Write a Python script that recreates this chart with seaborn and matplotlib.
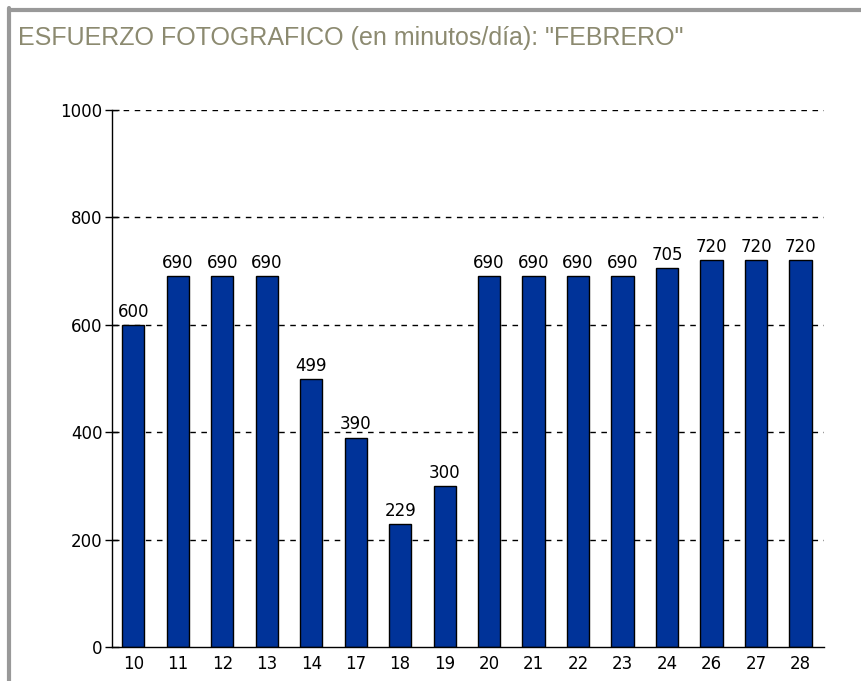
import matplotlib
matplotlib.use("Agg")
import matplotlib.pyplot as plt
import seaborn as sns
import pandas as pd
from matplotlib.lines import Line2D

days = ["10", "11", "12", "13", "14", "17", "18", "19", "20", "21", "22", "23", "24", "26", "27", "28"]
minutes = [600, 690, 690, 690, 499, 390, 229, 300, 690, 690, 690, 690, 705, 720, 720, 720]
yticks = [0, 200, 400, 600, 800, 1000]
title = 'ESFUERZO FOTOGRAFICO (en minutos/día): "FEBRERO"'

df = pd.DataFrame({"dia": days, "min": minutes})

sns.set_theme(style="white")
plt.rcParams["font.family"] = ["DejaVu Sans"]

fig = plt.figure(figsize=(8.62, 6.81), dpi=100)
ax = fig.add_axes([112 / 862, 1 - 647 / 681, (824 - 112) / 862, (647 - 110) / 681])

sns.barplot(data=df, x="dia", y="min", ax=ax, color="#003399", saturation=1,
            width=0.5, edgecolor="black", linewidth=1)

ax.set_ylim(0, 1000)
ax.set_xlim(-0.48, 15.53)
ax.set_yticks(yticks)
ax.set_yticklabels([str(v) for v in yticks])
ax.set_xlabel("")
ax.set_ylabel("")
for v in yticks[1:]:
    ax.axhline(v, color="black", lw=1, ls=(0, (4, 4)), zorder=0)

for sp in ["top", "right"]:
    ax.spines[sp].set_visible(False)
for sp in ["left", "bottom"]:
    ax.spines[sp].set_color("black")
    ax.spines[sp].set_linewidth(1)

ax.tick_params(axis="y", direction="inout", length=10, width=1, color="black",
               labelsize=12, labelcolor="black", left=True, pad=2)
ax.tick_params(axis="x", length=0, labelsize=12, labelcolor="black", pad=6)

for i, v in enumerate(minutes):
    ax.annotate(str(v), (i, v), xytext=(0, 3), textcoords="offset points",
                ha="center", va="bottom", fontsize=12, color="black")

fig.text(18 / 862, 1 - 38 / 681, title, fontsize=18, color="#8c8a70",
         ha="left", va="center", family=["Liberation Sans"])

# grey frame (top and left)
fig.add_artist(Line2D([9.5 / 862, 1], [1 - 9.5 / 681, 1 - 9.5 / 681], color="#999999", lw=3,
                      transform=fig.transFigure))
fig.add_artist(Line2D([9.5 / 862, 9.5 / 862], [0, 1 - 8 / 681], color="#999999", lw=3,
                      transform=fig.transFigure))

fig.savefig("out.png", dpi=100)
